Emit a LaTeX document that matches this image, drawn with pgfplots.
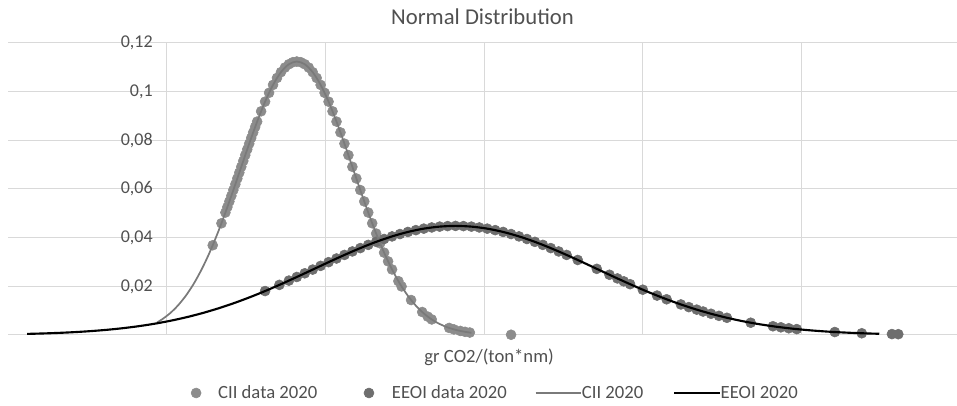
\documentclass[border=0pt]{standalone}
\usepackage{fontspec}
\setmainfont{Carlito}
\usepackage{pgfplots}
\pgfplotsset{compat=1.18}
\usetikzlibrary{calc}
\definecolor{gridc}{HTML}{D9D9D9}
\definecolor{txt}{HTML}{505050}
\definecolor{ciidata}{HTML}{8C8C8C}
\definecolor{eeoidata}{HTML}{6E6E6E}
\definecolor{ciiline}{HTML}{7A7A7A}
\newcommand{\lblfont}{\fontsize{14}{16}\selectfont}
\pgfplotsset{
  marklegend/.style={legend image code/.code={\draw[##1] plot coordinates {(0pt,0pt)};}},
  linelegend/.style={legend image code/.code={\draw[##1] (0pt,0pt) -- (34pt,0pt);}},
}
\begin{document}
\begin{tikzpicture}
\begin{axis}[
  name=ax, set layers,
  scale only axis, width=711.75pt, height=219pt,
  xmin=-10, xmax=49.8, ymin=0, ymax=0.12,
  axis x line=bottom, axis y line=middle,
  axis line style={-, draw=gridc, line width=0.75pt},
  grid=major, grid style={draw=gridc, line width=0.75pt},
  xtick={0,10,20,30,40}, xticklabels={},
  ytick={0,0.02,0.04,0.06,0.08,0.1,0.12},
  major tick length=0pt,
  yticklabel style={/pgf/number format/use comma, /pgf/number format/fixed, /pgf/number format/precision=2, /pgf/number format/assume math mode=true, font=\fontsize{13.5}{16}\selectfont, text=txt, xshift=-7pt},
  title={Normal Distribution},
  title style={font=\fontsize{17}{20}\selectfont, text=txt, at={(axis description cs:0.5,1)}, anchor=center, yshift=13.5pt},
  xlabel={gr CO2/(ton*nm)},
  xlabel style={at={(axis description cs:0.507,0)}, anchor=center, yshift=-16.5pt, font=\lblfont, text=txt},
  clip=false,
  legend columns=4,
  legend style={at={(axis description cs:0.5126,0)}, anchor=center, yshift=-43.5pt, draw=none, fill=none, inner sep=0pt,
    nodes={inner sep=0pt, text=txt, font=\lblfont},
    /tikz/column 1/.style={column sep=12.75pt},
    /tikz/column 2/.style={column sep=35pt},
    /tikz/column 3/.style={column sep=13.5pt},
    /tikz/column 4/.style={column sep=21pt},
    /tikz/column 5/.style={column sep=0pt},
    /tikz/column 6/.style={column sep=22.5pt},
    /tikz/column 7/.style={column sep=0pt}},
]
\addplot[only marks, mark=*, mark size=3.75pt, color=ciidata, marklegend]
coordinates {
(2.9,0.03687) (3.45,0.04591) (3.7,0.05033) (3.825,0.05259) (3.95,0.05489) (4.075,0.05721) (4.2,0.05957) (4.325,0.06194) (4.45,0.06432) (4.575,0.06672) (4.7,0.06912) (4.825,0.07152) (4.95,0.07391) (5.075,0.07628) (5.2,0.07864) (5.325,0.08096) (5.45,0.08325) (5.575,0.08550) (5.7,0.08770) (5.95,0.09193) (6.2,0.09589) (6.45,0.09952) (6.7,0.10278) (6.95,0.10563) (7.2,0.10801) (7.45,0.10990) (7.7,0.11127) (7.95,0.11210) (8.2,0.11238) (8.45,0.11210) (8.7,0.11127) (8.95,0.10990) (9.2,0.10801) (9.45,0.10563) (9.7,0.10278) (9.95,0.09952) (10.2,0.09589) (10.45,0.09193) (10.7,0.08770) (10.95,0.08325) (11.2,0.07864) (11.45,0.07391) (11.7,0.06912) (11.95,0.06432) (12.2,0.05957) (12.45,0.05489) (12.7,0.05033) (12.95,0.04591) (13.2,0.04168) (13.45,0.03765) (13.7,0.03384) (13.95,0.03027) (14.2,0.02694) (14.6,0.02213) (14.8,0.01996) (15.4,0.01437) (16.1,0.00945) (16.45,0.00755) (16.7,0.00639) (17.8,0.00290) (18.1,0.00230) (18.5,0.00167) (18.8,0.00130) (19.1,0.00101) (21.7,0.0001)
};
\addlegendentry{CII data 2020}
\addplot[only marks, mark=*, mark size=3.75pt, color=eeoidata, marklegend]
coordinates {
(6.2,0.018062) (7.1,0.020595) (7.7,0.022351) (8.2,0.023844) (8.7,0.025357) (9.2,0.026882) (9.7,0.028408) (10.2,0.029928) (10.7,0.031429) (11.2,0.032900) (11.7,0.034333) (12.2,0.035714) (12.7,0.037034) (13.2,0.038281) (13.7,0.039446) (14.2,0.040519) (14.7,0.041490) (15.2,0.042349) (15.7,0.043091) (16.2,0.043708) (16.7,0.044193) (17.2,0.044543) (17.7,0.044754) (18.2,0.044825) (18.7,0.044754) (19.2,0.044543) (19.7,0.044193) (20.2,0.043708) (20.7,0.043091) (21.2,0.042349) (21.7,0.041490) (22.2,0.040519) (22.7,0.039446) (23.2,0.038281) (23.7,0.037034) (24.2,0.035714) (24.7,0.034333) (25.2,0.032900) (25.9,0.030831) (27.1,0.027188) (27.9,0.024750) (28.4,0.023244) (28.8,0.022055) (29.2,0.020884) (30.0,0.018613) (30.9,0.016194) (31.5,0.014676) (32.4,0.012553) (32.9,0.011459) (33.4,0.010427) (33.8,0.009647) (34.3,0.008728) (34.8,0.007872) (35.3,0.007078) (36.8,0.005048) (38.2,0.003589) (38.7,0.003158) (39.2,0.002770) (39.7,0.002423) (42.1,0.001218) (43.8,0.000716) (45.7,0.000379) (46.1,0.000329)
};
\addlegendentry{EEOI data 2020}
\addplot[no marks, smooth, color=ciiline, line width=1.3pt, linelegend, on layer=axis foreground]
coordinates {
(-0.6,0.00520) (-0.3,0.00639) (0.2,0.00887) (0.7,0.01207) (1.2,0.01609) (1.7,0.02102) (2.2,0.02694) (2.7,0.03384) (3.2,0.04168) (3.7,0.05033) (4.2,0.05957) (4.7,0.06912) (5.2,0.07864) (5.7,0.08770) (6.2,0.09589) (6.7,0.10278) (7.2,0.10801) (7.7,0.11127) (8.2,0.11238) (8.7,0.11127) (9.2,0.10801) (9.7,0.10278) (10.2,0.09589) (10.7,0.08770) (11.2,0.07864) (11.7,0.06912) (12.2,0.05957) (12.7,0.05033) (13.2,0.04168) (13.7,0.03384) (14.2,0.02694) (14.7,0.02102) (15.2,0.01609) (15.7,0.01207) (16.2,0.00887) (16.7,0.00639) (17.2,0.00452) (17.7,0.00313) (18.2,0.00213) (18.7,0.00142) (19.2,0.00092)
};
\addlegendentry{CII 2020}
\addplot[no marks, smooth, color=black, line width=1.6pt, linelegend, on layer=axis foreground]
coordinates {
(-8.8,0.000450) (-7.8,0.000629) (-6.8,0.000867) (-5.8,0.001182) (-4.8,0.001590) (-3.8,0.002112) (-2.8,0.002770) (-1.8,0.003589) (-0.8,0.004591) (0.2,0.005799) (1.2,0.007232) (2.2,0.008907) (3.2,0.010832) (4.2,0.013008) (5.2,0.015425) (6.2,0.018062) (7.2,0.020884) (8.2,0.023844) (9.2,0.026882) (10.2,0.029928) (11.2,0.032900) (12.2,0.035714) (13.2,0.038281) (14.2,0.040519) (15.2,0.042349) (16.2,0.043708) (17.2,0.044543) (18.2,0.044825) (19.2,0.044543) (20.2,0.043708) (21.2,0.042349) (22.2,0.040519) (23.2,0.038281) (24.2,0.035714) (25.2,0.032900) (26.2,0.029928) (27.2,0.026882) (28.2,0.023844) (29.2,0.020884) (30.2,0.018062) (31.2,0.015425) (32.2,0.013008) (33.2,0.010832) (34.2,0.008907) (35.2,0.007232) (36.2,0.005799) (37.2,0.004591) (38.2,0.003589) (39.2,0.002770) (40.2,0.002112) (41.2,0.001590) (42.2,0.001182) (43.2,0.000867) (44.2,0.000629) (44.9,0.000498)
};
\addlegendentry{EEOI 2020}
\end{axis}
\pgfresetboundingbox
\path ($(ax.south west)+(-6pt,-53.25pt)$) rectangle ($(ax.north east)+(0pt,32.25pt)$);
\end{tikzpicture}
\end{document}
